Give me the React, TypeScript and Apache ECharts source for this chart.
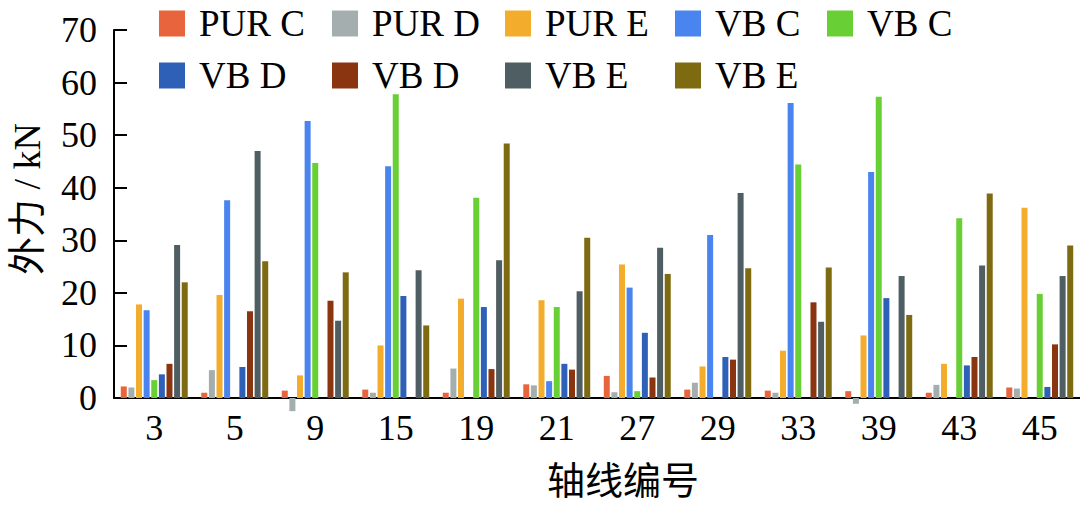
import React, { useEffect, useRef } from "react";
import * as echarts from "echarts";

const categories = ["3", "5", "9", "15", "19", "21", "27", "29", "33", "39", "43", "45"];
const purC = [2.2, 1.0, 1.4, 1.6, 1.0, 2.6, 4.2, 1.6, 1.4, 1.3, 1.0, 2.0];
const purD = [2.0, 5.3, -2.5, 1.0, 5.6, 2.4, 1.1, 2.9, 1.0, -1.1, 2.5, 1.8];
const purE = [17.8, 19.6, 4.3, 10.0, 18.9, 18.6, 25.4, 6.0, 9.0, 11.9, 6.5, 36.2];
const vbC1 = [16.7, 37.6, 52.7, 44.1, 0, 3.2, 21.0, 31.0, 56.1, 43.0, 0, 0];
const vbC2 = [3.4, 0, 44.7, 57.8, 38.1, 17.3, 1.3, 0, 44.4, 57.3, 34.2, 19.8];
const vbD1 = [4.5, 5.9, 0, 19.4, 17.3, 6.5, 12.4, 7.8, 0, 19.0, 6.2, 2.1];
const vbD2 = [6.5, 16.5, 18.5, 0, 5.5, 5.4, 3.9, 7.3, 18.2, 0, 7.8, 10.2];
const vbE1 = [29.1, 47.0, 14.7, 24.3, 26.2, 20.3, 28.6, 39.0, 14.5, 23.2, 25.2, 23.2];
const vbE2 = [22.0, 26.0, 23.9, 13.8, 48.4, 30.5, 23.6, 24.7, 24.8, 15.8, 38.9, 29.0];

const seriesIds = ["PUR C", "PUR D", "PUR E", "VB C", "VB C (2)", "VB D", "VB D (2)", "VB E", "VB E (2)"];
const seriesLabels = ["PUR C", "PUR D", "PUR E", "VB C", "VB C", "VB D", "VB D", "VB E", "VB E"];
const seriesData = [purC, purD, purE, vbC1, vbC2, vbD1, vbD2, vbE1, vbE2];
const seriesColors = ["#E8643C", "#A4AEAE", "#F4AC2C", "#4A84EE", "#68CF34", "#2E60B8", "#8B3410", "#4F5E62", "#7E6A10"];

const legendPos = [
  [159, 5], [332, 5], [505, 5], [675, 5], [827, 5],
  [159, 57], [332, 57], [505, 57], [675, 57],
];

const FONT = '"Liberation Serif", "Times New Roman", "Noto Sans CJK SC", serif';

export default function App() {
  const ref = useRef<HTMLDivElement>(null);
  useEffect(() => {
    if (!ref.current) return;
    const chart = echarts.init(ref.current, null, { renderer: "svg" });
    chart.setOption({
      animation: false,
      backgroundColor: "#ffffff",
      textStyle: { fontFamily: FONT },
      grid: { left: 107, right: 0, top: 30, bottom: 107, containLabel: false },
      legend: seriesIds.map((id, i) => ({
        data: [id],
        left: legendPos[i][0],
        top: legendPos[i][1],
        icon: "rect",
        itemWidth: 26,
        itemHeight: 26,
        padding: 0,
        formatter: () => seriesLabels[i],
        selectedMode: false,
        textStyle: { fontSize: 37, color: "#000", fontFamily: FONT, padding: [0, 0, 0, 9] },
      })),
      xAxis: {
        type: "category",
        data: categories,
        axisLine: { show: true, onZero: true, lineStyle: { color: "#000", width: 2 } },
        axisTick: { show: false },
        axisLabel: { fontSize: 36, color: "#000", fontFamily: FONT, margin: 12 },
        name: "轴线编号",
        nameLocation: "middle",
        nameGap: 64,
        nameTextStyle: { fontSize: 38, color: "#000", fontFamily: FONT, padding: [0, 0, 0, 52] },
      },
      yAxis: {
        type: "value",
        min: 0,
        max: 70,
        interval: 10,
        axisLine: { show: true, lineStyle: { color: "#000", width: 2 } },
        axisTick: { show: true, inside: true, length: 13, lineStyle: { color: "#000", width: 2 } },
        splitLine: { show: false },
        axisLabel: { fontSize: 36, color: "#000", fontFamily: FONT, margin: 17, padding: [0, 0, 11, 0] },
        name: "外力 / kN",
        nameLocation: "middle",
        nameGap: 68,
        nameRotate: 90,
        nameTextStyle: { fontSize: 38, color: "#000", fontFamily: FONT, padding: [0, 0, 0, 30] },
      },
      series: seriesIds.map((id, i) => ({
        type: "bar",
        name: id,
        data: seriesData[i],
        barWidth: 6,
        barGap: "27%",
        clip: false,
        itemStyle: { color: seriesColors[i] },
      })),
    });
    return () => chart.dispose();
  }, []);
  return (
    <div
      ref={ref}
      style={{ position: "fixed", left: 0, top: 0, width: 1080, height: 505, background: "#fff" }}
    />
  );
}
